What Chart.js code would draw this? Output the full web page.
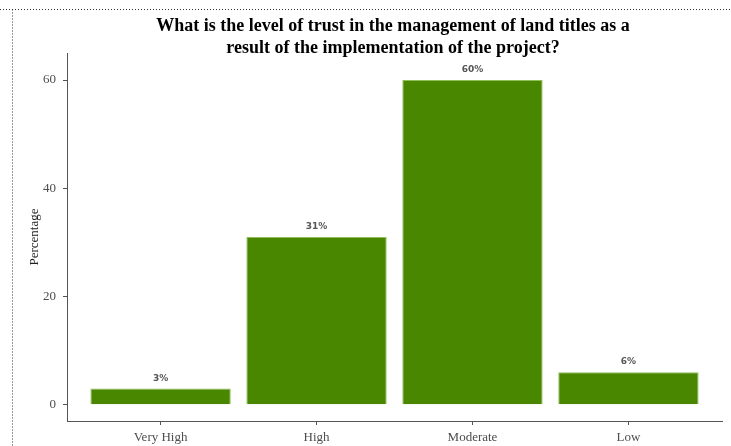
<!DOCTYPE html>
<html>
<head>
<meta charset="utf-8">
<script src="https://cdn.jsdelivr.net/npm/chart.js@4/dist/chart.umd.min.js"></script>
<style>
  html, body { margin: 0; padding: 0; background: #fff; }
  #wrap { position: relative; width: 731px; height: 446px; }
</style>
</head>
<body>
<div id="wrap"><canvas id="chart" width="731" height="446"></canvas></div>
<script>
/* data */
const categories = ["Very High", "High", "Moderate", "Low"];
const percents = [3, 31, 60, 6];
const yTicks = [0, 20, 40, 60];
const titleLines = [
  "What is the level of trust in the management of land titles as a",
  "result of the implementation of the project?"
];
const yLabel = "Percentage";

const SERIF = "'Liberation Serif', 'DejaVu Serif', serif";
const GREY = "#4d4d4d";

/* frame, title, y label and value labels */
const decor = {
  id: "decor",
  beforeDraw(chart) {
    const ctx = chart.ctx;
    ctx.save();
    ctx.fillStyle = "#fff";
    ctx.fillRect(0, 0, chart.width, chart.height);
    ctx.strokeStyle = "#333";
    ctx.lineWidth = 1;
    ctx.setLineDash([1, 2]);
    ctx.beginPath();
    ctx.moveTo(0, 9.5); ctx.lineTo(730, 9.5);
    ctx.moveTo(12.5, 9.5); ctx.lineTo(12.5, 446);
    ctx.stroke();
    ctx.restore();
  },
  afterDraw(chart) {
    const ctx = chart.ctx;
    const { x, y } = chart.scales;
    ctx.save();
    // title
    ctx.fillStyle = "#000";
    ctx.font = "bold 18px " + SERIF;
    ctx.textAlign = "center";
    ctx.textBaseline = "middle";
    titleLines.forEach((t, i) => ctx.fillText(t, 393, 26 + i * 22));
    // y axis label
    ctx.save();
    ctx.translate(35, (chart.chartArea.top + chart.chartArea.bottom) / 2);
    ctx.rotate(-Math.PI / 2);
    ctx.font = "13px " + SERIF;
    ctx.fillStyle = "#222";
    ctx.fillText(yLabel, 0, 0);
    ctx.restore();
    // value labels
    ctx.font = "bold 9px 'DejaVu Sans', sans-serif";
    ctx.fillStyle = "#555";
    ctx.textBaseline = "alphabetic";
    percents.forEach((v, i) => {
      ctx.fillText(v + "%", x.getPixelForValue(i), y.getPixelForValue(v) - 8);
    });
    ctx.restore();
  }
};

new Chart(document.getElementById("chart"), {
  type: "bar",
  data: {
    datasets: [{
      data: percents.map((v, i) => ({ x: i, y: v })),
      backgroundColor: "#4a8700",
      borderColor: "#8fc05a",
      borderWidth: 1,
      categoryPercentage: 0.9,
      barPercentage: 1
    }]
  },
  options: {
    responsive: false,
    animation: false,
    events: [],
    layout: { padding: { left: 0, top: 53, right: 9, bottom: 0 } },
    plugins: { legend: { display: false }, tooltip: { enabled: false }, title: { display: false } },
    scales: {
      x: {
        type: "linear",
        min: -0.6, max: 3.6,
        offset: false,
        afterBuildTicks: (s) => { s.ticks = categories.map((_, i) => ({ value: i })); },
        afterFit: (s) => { s.height = 25; },
        grid: { offset: false, drawOnChartArea: false, drawTicks: true, tickLength: 4, color: "#555" },
        border: { display: true, color: "#555", width: 1 },
        ticks: {
          callback: (v) => categories[v] ?? "",
          color: GREY, font: { family: SERIF, size: 13 }, padding: 5, maxRotation: 0
        }
      },
      y: {
        min: -3, max: 65,
        afterBuildTicks: (s) => { s.ticks = yTicks.map((v) => ({ value: v })); },
        afterFit: (s) => { s.width = 67; },
        grid: { drawOnChartArea: false, drawTicks: true, tickLength: 4, color: "#555" },
        border: { display: true, color: "#555", width: 1 },
        ticks: { color: GREY, font: { family: SERIF, size: 13 }, padding: 7 }
      }
    }
  },
  plugins: [decor]
});
</script>
</body>
</html>
